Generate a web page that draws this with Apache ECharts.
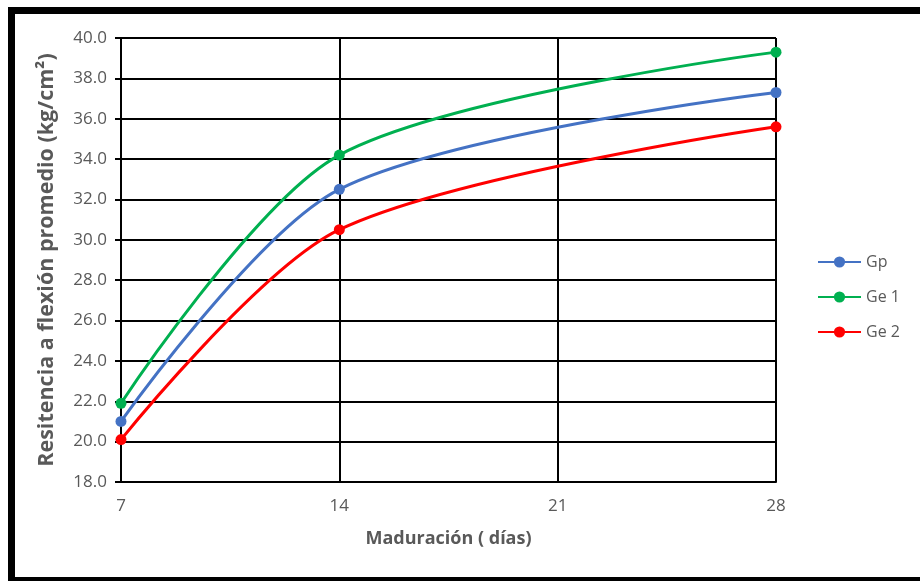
<!DOCTYPE html>
<html>
<head>
<meta charset="utf-8">
<script src="https://cdn.jsdelivr.net/npm/echarts@6/dist/echarts.min.js"></script>
<style>
html,body{margin:0;padding:0;background:#fff;}
#chart{width:920px;height:581px;}
</style>
</head>
<body>
<div id="chart"></div>
<script>
const days = [7, 14, 21, 28];
const xPoints = [7, 14, 28];
const gp = [21.0, 32.5, 37.3];
const ge1 = [21.9, 34.2, 39.3];
const ge2 = [20.1, 30.5, 35.6];
const seriesNames = ['Gp', 'Ge 1', 'Ge 2'];
const seriesColors = ['#4472C4', '#00B050', '#FF0000'];
const seriesValues = [gp, ge1, ge2];

const font = '"Open Sans", Lato, sans-serif';
const chart = echarts.init(document.getElementById('chart'));
chart.setOption({
  backgroundColor: '#fff',
  animation: false,
  graphic: [{
    type: 'rect',
    shape: {x: 11.5, y: 10.5, width: 930, height: 570},
    style: {fill: 'none', stroke: '#000', lineWidth: 7},
    z: 100
  }],
  grid: {left: 121, right: 144, top: 38, bottom: 99},
  legend: {
    orient: 'vertical',
    left: 812,
    top: 249,
    itemWidth: 43,
    itemHeight: 14,
    itemGap: 19,
    textStyle: {color: '#595959', fontSize: 16, fontFamily: font},
    data: seriesNames
  },
  xAxis: {
    type: 'value',
    min: 7, max: 28, interval: 7,
    name: 'Maduración ( días)',
    nameLocation: 'middle',
    nameGap: 48,
    nameTextStyle: {color: '#595959', fontSize: 18, fontWeight: 'bold', fontFamily: font},
    axisLine: {show: true, onZero: false, lineStyle: {color: '#000', width: 2}},
    axisTick: {show: false},
    axisLabel: {color: '#595959', fontSize: 17, margin: 16, fontFamily: font},
    splitLine: {show: true, lineStyle: {color: '#000', width: 2}}
  },
  yAxis: {
    type: 'value',
    min: 18, max: 40, interval: 2,
    name: 'Resitencia a flexión promedio (kg/cm²)',
    nameLocation: 'middle',
    nameGap: 63,
    nameTextStyle: {color: '#595959', fontSize: 21.5, fontWeight: 'bold', fontFamily: font},
    axisLine: {show: true, lineStyle: {color: '#000', width: 2}},
    axisTick: {show: true, length: 6, lineStyle: {color: '#000', width: 2}},
    axisLabel: {color: '#595959', fontSize: 17, margin: 14, fontFamily: font,
      formatter: v => v.toFixed(1)},
    splitLine: {show: true, lineStyle: {color: '#000', width: 2}}
  },
  series: seriesNames.map((n, i) => ({
    name: n,
    type: 'line',
    smooth: 0.3,
    symbol: 'circle',
    symbolSize: 11,
    color: seriesColors[i],
    lineStyle: {width: 3, color: seriesColors[i]},
    itemStyle: {color: seriesColors[i]},
    data: xPoints.map((x, j) => [x, seriesValues[i][j]])
  }))
});
</script>
</body>
</html>
